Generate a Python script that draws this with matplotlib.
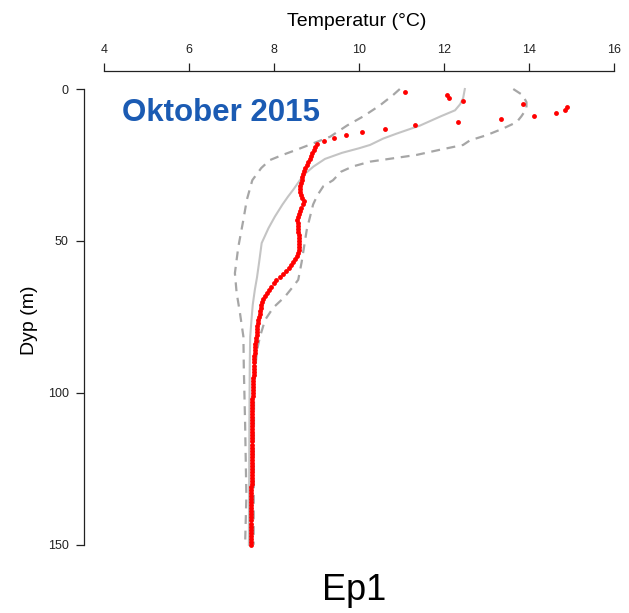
import matplotlib
matplotlib.use("Agg")
import matplotlib.pyplot as plt
import numpy as np

plt.rcParams["font.family"] = ["Liberation Sans", "DejaVu Sans"]

# ---------------------------------------------------------------------------
# Data (temperature in degC, depth in m)
# ---------------------------------------------------------------------------
obs_depth = np.arange(1, 151)
obs_temp = [
    11.08, 12.06, 12.12, 12.44, 13.87, 14.90, 14.85, 14.64, 14.12, 13.34,   # 1-10
    12.34, 11.32, 10.61, 10.06, 9.69, 9.41, 9.18, 9.02, 8.97, 8.93,         # 11-20
    8.90, 8.87, 8.85, 8.81, 8.77, 8.74, 8.71, 8.69, 8.67, 8.65,             # 21-30
    8.64, 8.62, 8.61, 8.62, 8.64, 8.66, 8.70, 8.68, 8.64, 8.61,             # 31-40
    8.58, 8.56, 8.55, 8.56, 8.56, 8.57, 8.57, 8.58, 8.58, 8.58,             # 41-50
    8.59, 8.59, 8.58, 8.56, 8.53, 8.49, 8.45, 8.41, 8.36, 8.29,             # 51-60
    8.22, 8.13, 8.05, 7.99, 7.94, 7.88, 7.83, 7.78, 7.74, 7.72,             # 61-70
    7.70, 7.69, 7.67, 7.66, 7.65, 7.63, 7.62, 7.61, 7.60, 7.60,             # 71-80
    7.59, 7.58, 7.57, 7.56, 7.56, 7.55, 7.55, 7.54, 7.54, 7.53,             # 81-90
    7.53, 7.52, 7.52, 7.52, 7.51, 7.51, 7.51, 7.51, 7.51, 7.51,             # 91-100
    7.50, 7.49, 7.49, 7.49, 7.49, 7.49, 7.48, 7.49, 7.49, 7.49,             # 101-110
    7.48, 7.49, 7.49, 7.48, 7.49, 7.49, 7.48, 7.48, 7.49, 7.49,             # 111-120
    7.48, 7.48, 7.49, 7.48, 7.48, 7.48, 7.48, 7.48, 7.48, 7.48,             # 121-130
    7.47, 7.46, 7.46, 7.46, 7.46, 7.46, 7.46, 7.46, 7.46, 7.46,             # 131-140
    7.46, 7.46, 7.46, 7.46, 7.46, 7.46, 7.46, 7.46, 7.46, 7.46,             # 141-150
]

mean_depth = [0, 3, 5, 7, 9, 12, 14.7, 16.3, 18.4, 19.5, 21, 23, 25.5, 28, 30,
              33, 35.4, 38, 42, 45.8, 50.7, 57, 62, 66, 71, 76, 81.5, 90, 110, 150]
mean_temp = [12.49, 12.45, 12.38, 12.26, 11.92, 11.44, 10.88, 10.57, 10.26, 10.0,
             9.60, 9.20, 8.93, 8.72, 8.61, 8.46, 8.33, 8.20, 8.02, 7.87, 7.71,
             7.65, 7.60, 7.55, 7.50, 7.47, 7.44, 7.43, 7.42, 7.41]

min_depth = [0, 2, 5.4, 9, 12, 15.7, 18, 20, 21.7, 23.4, 26, 30, 36.5, 43, 52,
             60.6, 67, 73.8, 81.5, 92, 110, 134, 150]
min_temp = [10.96, 10.80, 10.49, 10.10, 9.72, 9.32, 8.90, 8.53, 8.20, 7.90, 7.70,
            7.49, 7.36, 7.28, 7.16, 7.08, 7.12, 7.20, 7.28, 7.29, 7.32, 7.35, 7.32]

max_depth = [0, 2, 4.3, 6.5, 9, 10.9, 13, 15.2, 16.9, 18.4, 20, 21.7, 23.9, 25.5,
             27.2, 30, 32, 35, 38, 46.4, 57, 62.8, 65, 68.3, 72, 76, 81.5, 86, 92,
             100, 150]
max_temp = [13.63, 13.85, 13.94, 13.94, 13.82, 13.71, 13.39, 13.00, 12.61, 12.45,
            11.90, 11.35, 10.26, 9.85, 9.58, 9.39, 9.16, 9.02, 8.92, 8.77, 8.65,
            8.57, 8.45, 8.26, 7.98, 7.79, 7.67, 7.60, 7.56, 7.53, 7.52]

x_ticks = [4, 6, 8, 10, 12, 14, 16]
y_ticks = [0, 50, 100, 150]

W, H = 629, 613
fig = plt.figure(figsize=(W / 100, H / 100), dpi=100)

# plot region in pixels (R style: 4% padding around data range)
left, right, top, bottom = 83.6, 634.4, 70.8, 563.0
ax = fig.add_axes([left / W, 1 - bottom / H, (right - left) / W, (bottom - top) / H])
ax.set_xlim(3.52, 16.48)
ax.set_ylim(156, -6)

dash = (0, (4, 3))
ax.plot(min_temp, min_depth, color="#a6a6a6", lw=1.6, ls=dash, zorder=2)
ax.plot(max_temp, max_depth, color="#a6a6a6", lw=1.6, ls=dash, zorder=2)
ax.plot(mean_temp, mean_depth, color="#c4c4c4", lw=1.5, zorder=2)
ax.plot(obs_temp, obs_depth, ls="none", marker="o", ms=3.5, mew=0,
        color="#ff0000", zorder=3)

for side in ("right", "bottom"):
    ax.spines[side].set_visible(False)
ax.spines["top"].set_bounds(4, 16)
ax.spines["left"].set_bounds(0, 150)
for side in ("top", "left"):
    ax.spines[side].set_color("#222222")
    ax.spines[side].set_linewidth(0.9)

ax.xaxis.tick_top()
ax.set_xticks(x_ticks)
ax.set_yticks(y_ticks)
ax.tick_params(direction="out", length=5.8, width=0.9, color="#222222",
               labelsize=9, labelcolor="#222222", pad=5)

fig.text(357 / W, 1 - 21 / H, "Temperatur (\u00b0C)", ha="center", va="center",
         fontsize=14)
fig.text(30 / W, 1 - 320 / H, "Dyp (m)", ha="center", va="center",
         rotation=90, fontsize=14)
fig.text(122 / W, 1 - 113 / H, "Oktober 2015", ha="left", va="center",
         fontsize=22.5, fontweight="bold", color="#1b5bb3")
fig.text(354 / W, 1 - 590 / H, "Ep1", ha="center", va="center", fontsize=26)

fig.savefig("out.png", dpi=100)
